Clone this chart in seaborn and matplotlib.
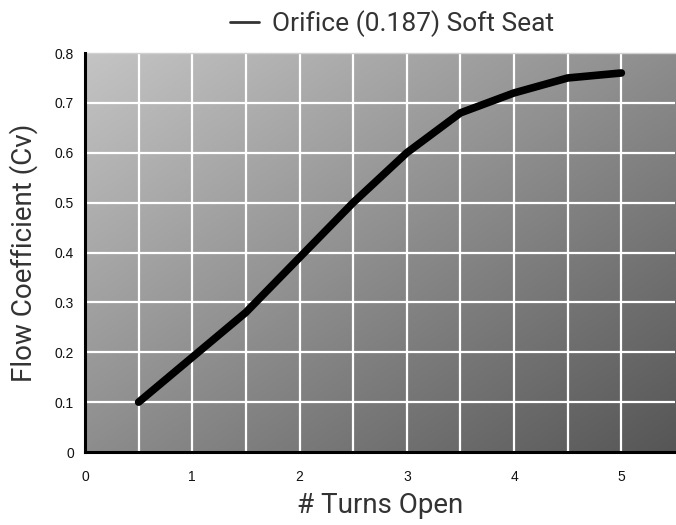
import numpy as np
import pandas as pd
import matplotlib
matplotlib.use("Agg")
import matplotlib.pyplot as plt
import seaborn as sns

# Data
turns_open = [0.5, 1.0, 1.5, 2.0, 2.5, 3.0, 3.5, 4.0, 4.5, 5.0]
flow_cv = [0.10, 0.19, 0.28, 0.39, 0.50, 0.60, 0.68, 0.72, 0.75, 0.76]
series_name = "Orifice (0.187) Soft Seat"

x_ticks = [0, 1, 2, 3, 4, 5]
y_ticks = [0, 0.1, 0.2, 0.3, 0.4, 0.5, 0.6, 0.7, 0.8]

df = pd.DataFrame({"Turns": turns_open, "Cv": flow_cv, "Series": series_name})

sns.set_style("white")
plt.rcParams['font.family'] = ['Liberation Sans', 'DejaVu Sans']
label_font = ["Roboto", "DejaVu Sans"]

fig = plt.figure(figsize=(6.76, 5.25), dpi=100)
ax = fig.add_axes([0.1257, 0.139, 0.8728, 0.760])

# diagonal grey gradient background, light top-left to dark bottom-right
g = np.linspace(0, 1, 256)
gx, gy = np.meshgrid(g, g)
grad = (gx + gy) / 2
ax.imshow(grad, cmap=matplotlib.colors.LinearSegmentedColormap.from_list("bg", ["#c4c4c4", "#565656"]),
          extent=[0, 1, 0, 1], transform=ax.transAxes, aspect="auto", zorder=0, origin="upper")

sns.lineplot(data=df, x="Turns", y="Cv", hue="Series", palette=["black"],
             linewidth=5.5, ax=ax, zorder=3, legend=True)
for ln in ax.lines:
    ln.set_solid_capstyle("round")
    ln.set_solid_joinstyle("round")

ax.set_xlim(0, 5.5)
ax.set_ylim(0, 0.8)
ax.set_xticks(x_ticks)
ax.set_xticklabels([str(t) for t in x_ticks])
ax.set_xticks(np.arange(0, 5.51, 0.5), minor=True)
ax.set_yticks(y_ticks)
ax.set_yticklabels(["0" if t == 0 else f"{t:.1f}" for t in y_ticks])

# white grid
for xv in np.arange(0.5, 5.01, 0.5):
    ax.axvline(xv, color="white", lw=1.6, zorder=1)
for yv in y_ticks[1:-1]:
    ax.axhline(yv, color="white", lw=1.6, zorder=1)

for s in ["left", "bottom"]:
    ax.spines[s].set_color("black")
    ax.spines[s].set_linewidth(2.2)
    ax.spines[s].set_zorder(4)
ax.spines["top"].set_color("#d0d0d0")
ax.spines["top"].set_linewidth(1)
ax.spines["right"].set_visible(False)

ax.tick_params(axis="both", which="both", direction="out", color="black",
               width=1.5, labelsize=10, labelcolor="#111111")
ax.tick_params(axis="both", which="major", length=4)
ax.tick_params(axis="x", which="minor", length=4)
ax.tick_params(axis="x", which="major", pad=9)
ax.tick_params(axis="y", which="major", pad=4)

ax.set_xlabel("# Turns Open", fontsize=20, color="#333333", family=label_font, labelpad=6)
ax.set_ylabel("Flow Coefficient (Cv)", fontsize=20, color="#333333", family=label_font, labelpad=12)

leg = ax.legend(loc="lower center", bbox_to_anchor=(0.52, 1.0), frameon=False,
                prop={"family": label_font, "size": 19}, labelcolor="#333333",
                handlelength=1.1, handletextpad=0.5, borderaxespad=0.2)
for h in leg.legend_handles:
    h.set_linewidth(2)
    h.set_color("#333333")

fig.savefig("out.png", dpi=100)
